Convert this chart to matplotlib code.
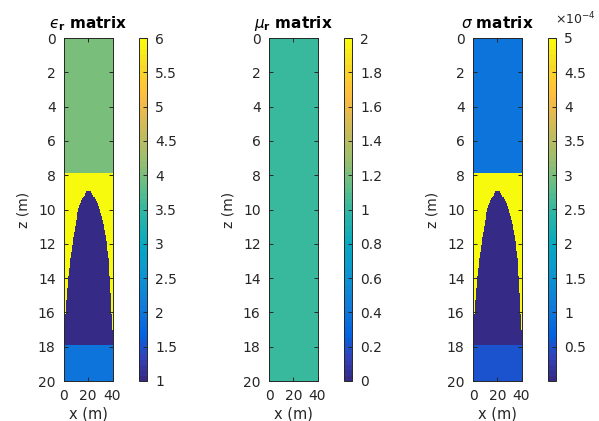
import numpy as np
import matplotlib
matplotlib.use('Agg')
import matplotlib.pyplot as plt
from matplotlib.colors import LinearSegmentedColormap

plt.rcParams['font.family'] = ['DejaVu Sans']
plt.rcParams['mathtext.fontset'] = 'dejavusans'

# model layers (depth in m)
layer_top = [0.0, 7.9, 17.9]
layer_bot = [7.9, 17.9, 20.0]
eps_layer = [4.0, 6.0, 2.0]
mu_layer = [1.0, 1.0, 1.0]
sig_layer = [1e-4, 5e-4, 0.5e-4]

# buried object values
eps_obj = 1.0
mu_obj = 1.0
sig_obj = 0.0

# object outline: depth -> left / right x edge
obj_z = [8.95, 9.5, 10.0, 11.0, 12.0, 13.0, 14.0, 15.0, 16.0, 16.8, 17.4, 17.9]
obj_left = [18.5, 14.0, 11.5, 9.3, 7.0, 5.0, 3.5, 2.4, 1.3, 0.0, 0.0, 0.0]
obj_right = [21.5, 26.5, 29.2, 32.7, 35.0, 36.6, 37.2, 38.0, 38.8, 39.4, 40.0, 40.0]

x_range = [0, 40]
z_range = [0, 20]

eps_ticks = [1, 1.5, 2, 2.5, 3, 3.5, 4, 4.5, 5, 5.5, 6]
mu_ticks = [0, 0.2, 0.4, 0.6, 0.8, 1, 1.2, 1.4, 1.6, 1.8, 2]
sig_ticks = [0.5, 1, 1.5, 2, 2.5, 3, 3.5, 4, 4.5, 5]  # x 1e-4

# parula-like colormap
parula_pts = [
    (0.2081, 0.1663, 0.5292), (0.1959, 0.2645, 0.7279), (0.0117, 0.3875, 0.8820),
    (0.0629, 0.4737, 0.8554), (0.0488, 0.5772, 0.8228), (0.0267, 0.6642, 0.7607),
    (0.1801, 0.7177, 0.6424), (0.3953, 0.7459, 0.5244), (0.6099, 0.7473, 0.4337),
    (0.8185, 0.7327, 0.3498), (0.9739, 0.7314, 0.2666), (0.9990, 0.7653, 0.2164),
    (0.9697, 0.8481, 0.1475), (0.9763, 0.9831, 0.0538),
]
parula_pos = [0, 4, 8, 13, 19, 25, 31, 36, 41, 47, 52, 54, 58, 63]
parula = LinearSegmentedColormap.from_list(
    'parula', [(p / 63, c) for p, c in zip(parula_pos, parula_pts)], N=64)


def make_model(layer_vals, obj_val, dx=0.25, dz=0.05):
    xc = np.arange(x_range[0] + dx / 2, x_range[1], dx)
    zc = np.arange(z_range[0] + dz / 2, z_range[1], dz)
    m = np.zeros((len(zc), len(xc)))
    for top, bot, v in zip(layer_top, layer_bot, layer_vals):
        m[(zc >= top) & (zc < bot), :] = v
    for i, z in enumerate(zc):
        if obj_z[0] <= z < obj_z[-1]:
            lo = np.interp(z, obj_z, obj_left)
            hi = np.interp(z, obj_z, obj_right)
            m[i, (xc >= lo) & (xc <= hi)] = obj_val
    return m


W, H = 599, 421
fig = plt.figure(figsize=(W / 100, H / 100), dpi=100)
fc = '#262626'

ax_lefts = [64, 269, 473]
cb_lefts = [139, 344, 548]
top, bot = 38, 381

panels = [
    (make_model(eps_layer, eps_obj), 1, 6, eps_ticks, [f'{t:g}' for t in eps_ticks],
     '$\u03f5_\\mathbf{r}$ matrix'),
    (make_model(mu_layer, mu_obj), 0, 2, mu_ticks, [f'{t:g}' for t in mu_ticks],
     r'$\mu_\mathbf{r}$ matrix'),
    (make_model(sig_layer, sig_obj) * 1e4, 0, 5, sig_ticks, [f'{t:g}' for t in sig_ticks],
     r'$\sigma$ matrix'),
]

for k, ((data, vmin, vmax, ticks, labels, title), al, cl) in enumerate(
        zip(panels, ax_lefts, cb_lefts)):
    ax = fig.add_axes([al / W, 1 - bot / H, 48.5 / W, (bot - top) / H])
    im = ax.imshow(data, cmap=parula, vmin=vmin, vmax=vmax, aspect='auto',
                   extent=[0, 40, 20, 0], interpolation='nearest')
    ax.set_xlim(0, 40)
    ax.set_ylim(20, 0)
    ax.set_xticks([0, 20, 40])
    ax.set_yticks(range(0, 21, 2))
    ax.tick_params(direction='in', top=True, right=True, length=3, width=0.7,
                   labelsize=10, colors=fc, pad=6)
    for s in ax.spines.values():
        s.set_color(fc)
        s.set_linewidth(0.7)
    ax.set_xlabel('x (m)', fontsize=10.5, color=fc, labelpad=2)
    ax.set_ylabel('z (m)', fontsize=10, color=fc, labelpad=5)
    ax.set_title(title, fontsize=11, fontweight='bold', color='k', pad=7)

    cax = fig.add_axes([cl / W, 1 - bot / H, 8 / W, (bot - top) / H])
    cb = fig.colorbar(im, cax=cax)
    cb.set_ticks(ticks)
    cb.set_ticklabels(labels)
    cax.tick_params(direction='in', length=3, width=0.7, labelsize=10, colors=fc, pad=6)
    cb.outline.set_edgecolor(fc)
    cb.outline.set_linewidth(0.7)
    if k == 2:
        cax.text(0.9, 1.03, r'$\times10^{-4}$', transform=cax.transAxes,
                 fontsize=9, color=fc, ha='left', va='bottom')

fig.savefig('out.png', dpi=100)
